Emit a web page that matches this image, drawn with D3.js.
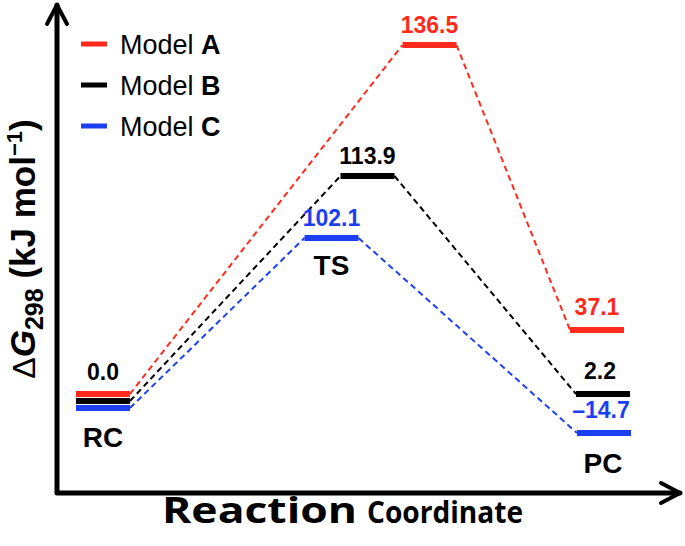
<!DOCTYPE html>
<html><head><meta charset="utf-8">
<script src="https://cdn.jsdelivr.net/npm/d3@7"></script>
<style>
html,body{margin:0;padding:0;background:#fff;}
svg{display:block;}
</style></head>
<body>
<svg id="chart" width="685" height="546"></svg>
<script>
// ---- data ----
const stages = ["RC", "TS", "PC"];
const seriesNames = ["Model A", "Model B", "Model C"];
const seriesKeys = ["A", "B", "C"];
const valuesA = [0.0, 136.5, 37.1];
const valuesB = [0.0, 113.9, 2.2];
const valuesC = [0.0, 102.1, -14.7];
const valueLabelsA = ["", "136.5", "37.1"];
const valueLabelsB = ["0.0", "113.9", "2.2"];
const valueLabelsC = ["", "102.1", "\u201314.7"];

// ---- styles ----
const colors = ["#fe2b1d", "#000000", "#1d3ff2"];
const tsShift = [78, 16, -20];      // horizontal stagger of TS levels (schematic)
const rcStagger = [-7, 0, 7];       // vertical stagger of degenerate RC levels
const pcShift = [-3, 3, 4];
const levelW = 54;

const series = seriesKeys.map((k, i) => ({
  key: k, name: seriesNames[i], color: colors[i],
  values: [valuesA, valuesB, valuesC][i],
  labels: [valueLabelsA, valueLabelsB, valueLabelsC][i]
}));

const svg = d3.select("#chart");

// schematic (not to scale) energy axis: piecewise-linear scale
const allVals = Array.from(new Set([].concat(valuesA, valuesB, valuesC))).sort((a, b) => a - b);
const yRange = [433, 401, 394, 330, 238, 176, 45];
const y = d3.scaleLinear().domain(allVals).range(yRange);
const x = d3.scalePoint().domain(stages).range([103, 600]);

function cx(s, i, j) {
  if (stages[j] === "TS") return x(stages[j]) + tsShift[i];
  if (stages[j] === "PC") return x(stages[j]) + pcShift[i];
  return x(stages[j]);
}
function cy(s, i, j) {
  return y(s.values[j]) + (stages[j] === "RC" ? rcStagger[i] : 0);
}

// ---- axes (arrows) ----
const axisY0 = 493, axisX0 = 57;
const ax = svg.append("g").attr("stroke", "#000").attr("fill", "none")
  .attr("stroke-linecap", "round").attr("stroke-linejoin", "round");
ax.append("path").attr("stroke-width", 5)
  .attr("d", `M${axisX0},${axisY0} L${axisX0},5 M680,${axisY0} L${axisX0},${axisY0}`);
ax.append("path").attr("stroke-width", 4)
  .attr("d", `M${axisX0 - 10},24 L${axisX0},5 L${axisX0 + 10},24`);
ax.append("path").attr("stroke-width", 4)
  .attr("d", `M661,${axisY0 - 10} L680,${axisY0} L661,${axisY0 + 10}`);

// ---- connectors (dashed) ----
const lines = svg.append("g");
series.forEach((s, i) => {
  for (let j = 0; j < stages.length - 1; j++) {
    const x1 = cx(s, i, j) + levelW / 2, y1 = cy(s, i, j);
    const x2 = cx(s, i, j + 1) - levelW / 2, y2 = cy(s, i, j + 1);
    lines.append("line")
      .attr("x1", x1).attr("y1", y1).attr("x2", x2).attr("y2", y2)
      .attr("stroke", s.color).attr("stroke-width", 2)
      .attr("stroke-dasharray", "6,4");
  }
});

// ---- levels ----
const levels = svg.append("g");
series.forEach((s, i) => {
  stages.forEach((st, j) => {
    levels.append("line")
      .attr("x1", cx(s, i, j) - levelW / 2).attr("x2", cx(s, i, j) + levelW / 2)
      .attr("y1", cy(s, i, j)).attr("y2", cy(s, i, j))
      .attr("stroke", s.color).attr("stroke-width", 6);
  });
});

// ---- value labels ----
const labG = svg.append("g").attr("font-family", "Liberation Sans, Arial, sans-serif")
  .attr("font-weight", "bold").attr("font-size", 23).attr("text-anchor", "middle");
const labOffset = { RC: 14, TS: 12, PC: 15 };
series.forEach((s, i) => {
  stages.forEach((st, j) => {
    if (!s.labels[j]) return;
    labG.append("text")
      .attr("x", cx(s, i, j) - (st === "PC" ? 3 * (i === 0 ? 0 : 1) : 0))
      .attr("y", cy(s, i, j) - labOffset[st] - (st === "RC" ? 7 : 0))
      .attr("fill", st === "RC" ? "#000" : s.color)
      .text(s.labels[j]);
  });
});

// ---- stage labels ----
const stG = svg.append("g").attr("font-family", "Liberation Sans, Arial, sans-serif")
  .attr("font-weight", "bold").attr("font-size", 28).attr("text-anchor", "middle");
stG.append("text").attr("x", x("RC")).attr("y", 447).text("RC");
stG.append("text").attr("x", x("TS") + tsShift[2]).attr("y", 275).text("TS");
stG.append("text").attr("x", x("PC") + 3).attr("y", 473).text("PC");

// ---- legend ----
const leg = svg.append("g").attr("font-family", "Liberation Sans, Arial, sans-serif").attr("font-size", 27);
series.forEach((s, i) => {
  const ly = 44 + i * 41;
  leg.append("line").attr("x1", 81).attr("x2", 107).attr("y1", ly).attr("y2", ly)
    .attr("stroke", s.color).attr("stroke-width", 5);
  const t = leg.append("text").attr("x", 120).attr("y", ly + 9.5);
  t.append("tspan").text("Model ");
  t.append("tspan").attr("font-weight", "bold").text(s.key);
});

// ---- y axis label ----
const yl = svg.append("text")
  .attr("transform", "translate(35,249) rotate(-90)")
  .attr("text-anchor", "middle")
  .attr("font-family", "Liberation Sans, Arial, sans-serif")
  .attr("font-size", 35).attr("font-weight", "bold");
yl.append("tspan").attr("font-weight", "normal").attr("font-size", 32).text("\u0394");
yl.append("tspan").attr("font-style", "italic").text("G");
yl.append("tspan").attr("font-size", 25).attr("dy", 8).text("298");
yl.append("tspan").attr("dy", -8).text(" (kJ mol");
yl.append("tspan").attr("font-size", 22).attr("dy", -13).text("\u22121");
yl.append("tspan").attr("dy", 13).text(")");

// ---- x axis label ----
const xlG = svg.append("g").attr("font-family", "'Open Sans', Lato, sans-serif").attr("font-weight", "bold");
xlG.append("text").attr("x", 162).attr("y", 523).attr("font-size", 36)
  .attr("textLength", 195).attr("lengthAdjust", "spacingAndGlyphs").text("Reaction");
xlG.append("text").attr("x", 367).attr("y", 523).attr("font-size", 30)
  .attr("textLength", 156).attr("lengthAdjust", "spacingAndGlyphs").text("Coordinate");
</script>
</body></html>
